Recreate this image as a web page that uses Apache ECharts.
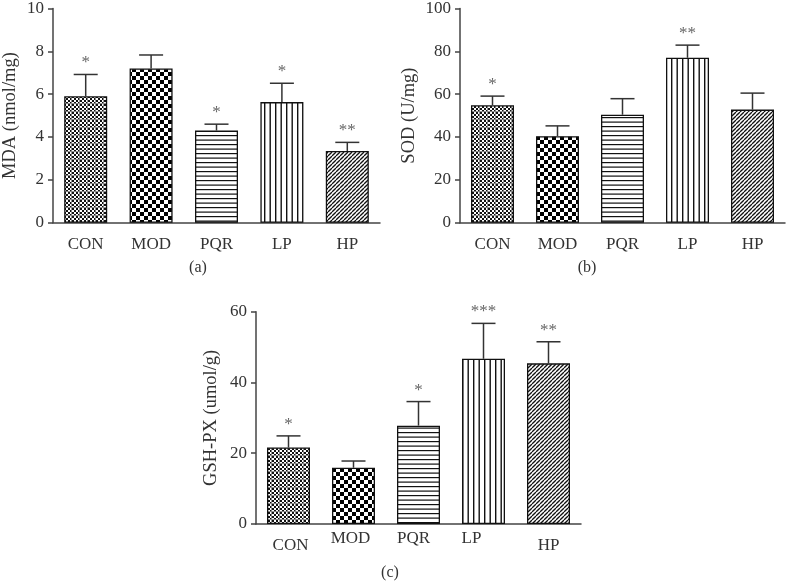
<!DOCTYPE html>
<html><head><meta charset="utf-8">
<script src="https://cdn.jsdelivr.net/npm/echarts@6/dist/echarts.min.js"></script>
<style>html,body{margin:0;padding:0;background:#fff}#c{width:787px;height:583px}</style>
</head><body><div id="c"></div>
<script>
// ---- data ----
const categories = ['CON', 'MOD', 'PQR', 'LP', 'HP'];
const mdaMean = [5.9, 7.2, 4.3, 5.63, 3.35];
const mdaSD   = [1.02, 0.63, 0.3, 0.88, 0.4];
const mdaSig  = ['*', '', '*', '*', '**'];
const sodMean = [54.8, 40.4, 50.4, 77.0, 52.8];
const sodSD   = [4.3, 4.8, 7.5, 5.9, 7.7];
const sodSig  = ['*', '', '', '**', ''];
const gshMean = [21.6, 15.9, 27.8, 46.7, 45.4];
const gshSD   = [3.3, 1.9, 6.8, 10.0, 6.1];
const gshSig  = ['*', '', '*', '***', '**'];
const yTicksA = [0, 2, 4, 6, 8, 10];
const yTicksB = [0, 20, 40, 60, 80, 100];
const yTicksC = [0, 20, 40, 60];

// ---- patterns ----
function mk(w, h, draw) {
  const c = document.createElement('canvas'); c.width = w; c.height = h;
  const g = c.getContext('2d'); g.fillStyle = '#fff'; g.fillRect(0, 0, w, h); draw(g);
  return { image: c, repeat: 'repeat' };
}
const patCON = mk(8, 8, g => {
  g.fillStyle = '#111';
  for (let y = 0; y < 8; y += 2) for (let x = 0; x < 8; x += 2) if (((x + y) / 2) % 2 === 0) g.fillRect(x, y, 2, 2);
  g.fillStyle = 'rgba(140,140,140,0.9)'; g.fillRect(7, 0, 1, 8); g.fillRect(0, 7, 8, 1);
});
const patMOD = mk(8, 8, g => { g.fillStyle = '#000'; g.fillRect(0, 0, 4, 4); g.fillRect(4, 4, 4, 4); });
const patPQR = mk(9, 9, g => { g.fillStyle = '#111'; g.fillRect(0, 0, 9, 1.2); g.fillRect(0, 4.5, 9, 1.2); });
const patLP = mk(11, 11, g => { g.fillStyle = '#111'; g.fillRect(0, 0, 1.4, 11); g.fillRect(5.5, 0, 1.4, 11); });
const patHP = mk(4, 4, g => {
  g.strokeStyle = '#111'; g.lineWidth = 1.3;
  [0, 4, 8].forEach(c => { g.beginPath(); g.moveTo(c, 0); g.lineTo(c - 4, 4); g.stroke(); });
});
const patterns = [patCON, patMOD, patPQR, patLP, patHP];

const FONT = 'Liberation Serif';
const TXT = '#333';
const AX = '#444';
const FS = 17;

function barData(means) {
  return means.map((v, i) => ({ value: v, itemStyle: { color: patterns[i] } }));
}
function errData(means, sds) {
  return means.map((v, i) => [i, v, v + sds[i]]);
}
function errRender(sig) {
  return function (params, api) {
    const b = api.coord([api.value(0), api.value(1)]);
    const t = api.coord([api.value(0), api.value(2)]);
    const half = 12;
    const st = { stroke: '#333', lineWidth: 1.5 };
    return {
      type: 'group', children: [
        { type: 'line', shape: { x1: b[0], y1: b[1], x2: b[0], y2: t[1] }, style: st },
        { type: 'line', shape: { x1: b[0] - half, y1: t[1], x2: b[0] + half, y2: t[1] }, style: st },
        { type: 'text', x: b[0], y: t[1] - 3, style: { text: sig[params.dataIndex], fill: '#666', font: '17px ' + FONT, textAlign: 'center', textVerticalAlign: 'bottom' } }
      ]
    };
  };
}

const grids = [
  { left: 53, top: 5, width: 327, height: 217.7 },
  { left: 460, top: 5, width: 325, height: 217.7 },
  { left: 256, top: 311.7, width: 325, height: 212.3 }
];

function xAxis(gi, extra) {
  return Object.assign({
    type: 'category', gridIndex: gi, data: categories,
    axisLine: { lineStyle: { color: AX, width: 1.5 } },
    axisTick: { alignWithLabel: true, length: 6, lineStyle: { color: AX, width: 1.5 } },
    axisLabel: { interval: 0, color: TXT, fontFamily: FONT, fontSize: FS, margin: 13 }
  }, extra || {});
}
function yAxis(gi, ticks, name, gap) {
  return {
    type: 'value', gridIndex: gi, min: ticks[0], max: ticks[ticks.length - 1], interval: ticks[1] - ticks[0],
    name: name, nameLocation: 'middle', nameGap: gap,
    nameTextStyle: { color: TXT, fontFamily: FONT, fontSize: 18.5 },
    axisLine: { show: true, lineStyle: { color: AX, width: 1.5 } },
    axisTick: { show: true, length: 5, lineStyle: { color: AX, width: 1.5 } },
    axisLabel: { color: TXT, fontFamily: FONT, fontSize: FS, margin: 9 },
    splitLine: { show: false }
  };
}

const cLabelStyle = { CON: 'd0', MOD: 'u1', PQR: 'u2', LP: 'u3', HP: 'd4' };
const xC = xAxis(2, {
  axisLabel: {
    interval: 0, color: TXT, fontFamily: FONT, fontSize: FS, margin: 6,
    formatter: v => '{' + cLabelStyle[v] + '|' + v + '}',
    rich: {
      d0: { fontFamily: FONT, fontSize: FS, color: TXT, padding: [7, 0, 0, 4] },
      u1: { fontFamily: FONT, fontSize: FS, color: TXT, padding: [0, 6, 0, 0] },
      u2: { fontFamily: FONT, fontSize: FS, color: TXT, padding: [0, 10, 0, 0] },
      u3: { fontFamily: FONT, fontSize: FS, color: TXT, padding: [0, 24, 0, 0] },
      d4: { fontFamily: FONT, fontSize: FS, color: TXT, padding: [7, 0, 0, 0] }
    }
  }
});

function barSeries(gi, means) {
  return { type: 'bar', xAxisIndex: gi, yAxisIndex: gi, data: barData(means), barWidth: 43,
    itemStyle: { borderColor: '#111', borderWidth: 1.3 }, silent: true, animation: false };
}
function errSeries(gi, means, sds, sig) {
  return { type: 'custom', xAxisIndex: gi, yAxisIndex: gi, data: errData(means, sds),
    renderItem: errRender(sig), z: 5, silent: true, animation: false };
}

const option = {
  animation: false,
  grid: grids,
  xAxis: [xAxis(0), xAxis(1), xC],
  yAxis: [
    yAxis(0, yTicksA, 'MDA (nmol/mg)', 33),
    yAxis(1, yTicksB, 'SOD (U/mg)', 41),
    yAxis(2, yTicksC, 'GSH-PX (umol/g)', 35)
  ],
  series: [
    barSeries(0, mdaMean), errSeries(0, mdaMean, mdaSD, mdaSig),
    barSeries(1, sodMean), errSeries(1, sodMean, sodSD, sodSig),
    barSeries(2, gshMean), errSeries(2, gshMean, gshSD, gshSig)
  ],
  graphic: [
    { type: 'text', x: 198, y: 268, style: { text: '(a)', fill: TXT, font: '16px ' + FONT, textAlign: 'center', textVerticalAlign: 'middle' } },
    { type: 'text', x: 587, y: 268, style: { text: '(b)', fill: TXT, font: '16px ' + FONT, textAlign: 'center', textVerticalAlign: 'middle' } },
    { type: 'text', x: 390, y: 573, style: { text: '(c)', fill: TXT, font: '16px ' + FONT, textAlign: 'center', textVerticalAlign: 'middle' } }
  ]
};
const chart = echarts.init(document.getElementById('c'), null, { renderer: 'canvas' });
chart.setOption(option);
</script></body></html>
